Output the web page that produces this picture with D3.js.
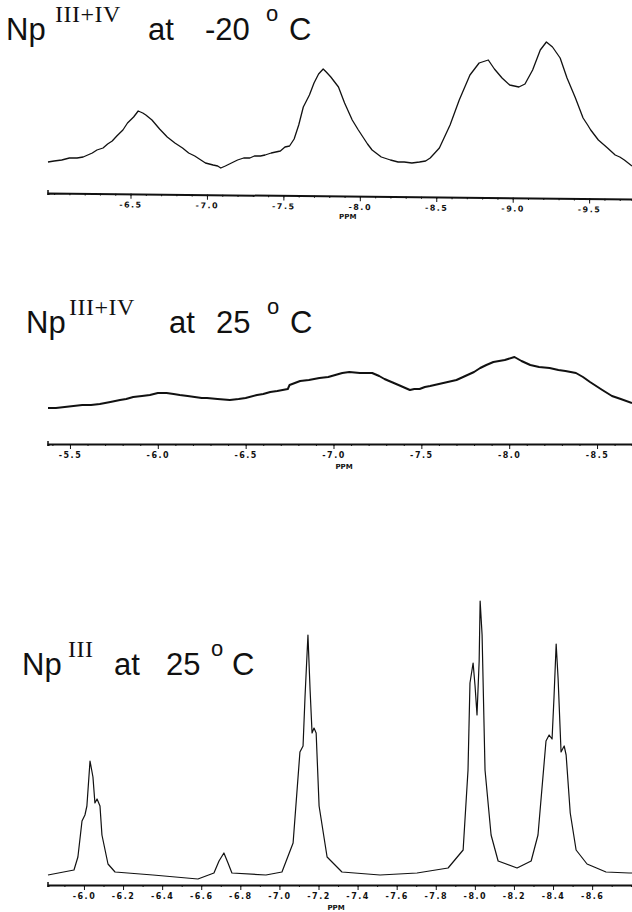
<!DOCTYPE html>
<head>
  <meta charset="utf-8">
</head>
<style>
body { margin: 0; background: #fff; }
.trace { fill: none; stroke: #111; stroke-linejoin: round; }
.axis path, .axis line { stroke: #111; }
.axis text { font-family: "DejaVu Sans", sans-serif; font-size: 8px; font-weight: bold; fill: #111; letter-spacing: 1.5px; }
.title { font-family: "Liberation Sans", Arial, sans-serif; fill: #111; }
.sup { font-family: "Liberation Serif", "Times New Roman", serif; letter-spacing: 0.5px; }
.ppm { font-family: "DejaVu Sans", sans-serif; font-size: 7px; font-weight: bold; fill: #111; }
</style>
<body>
<script src="https://d3js.org/d3.v7.min.js"></script>
<script>
// Np(III+IV) at -20 C
var ppm1 = [-5.96, -6.00, -6.05, -6.10, -6.15, -6.19, -6.22, -6.25, -6.28, -6.32, -6.35, -6.38, -6.41, -6.45, -6.48, -6.52, -6.55, -6.58, -6.60, -6.64, -6.69, -6.74, -6.79, -6.84, -6.88, -6.92, -6.96, -6.99, -7.04, -7.07, -7.09, -7.12, -7.16, -7.20, -7.24, -7.28, -7.31, -7.35, -7.38, -7.42, -7.45, -7.48, -7.51, -7.54, -7.57, -7.60, -7.63, -7.67, -7.70, -7.73, -7.76, -7.78, -7.81, -7.86, -7.90, -7.95, -7.99, -8.02, -8.05, -8.08, -8.14, -8.20, -8.25, -8.29, -8.34, -8.39, -8.43, -8.46, -8.52, -8.59, -8.65, -8.72, -8.78, -8.82, -8.84, -8.88, -8.93, -8.98, -9.04, -9.08, -9.13, -9.18, -9.22, -9.26, -9.31, -9.355, -9.41, -9.46, -9.49, -9.51, -9.56, -9.62, -9.67, -9.70, -9.73, -9.78];
var int1 = [13, 14, 15, 17, 17, 18, 20, 22, 25, 27, 31, 34, 39, 45, 52, 58, 64, 62, 60, 55, 46, 38, 32, 27, 22, 19, 15, 12, 10, 9, 7, 9, 12, 15, 17, 17, 19, 19, 20, 22, 23, 24, 28, 29, 36, 50, 68, 80, 92, 101, 106, 103, 98, 88, 72, 55, 45, 38, 31, 25, 18, 15, 13, 13, 12, 13, 14, 17, 27, 50, 75, 100, 112, 114, 115, 106, 97, 90, 88, 91, 105, 125, 133, 128, 117, 97, 77, 57, 50, 45, 35, 27, 20, 18, 15, 9];

// Np(III+IV) at 25 C
var ppm2 = [-5.375, -5.42, -5.47, -5.52, -5.57, -5.62, -5.67, -5.73, -5.785, -5.82, -5.86, -5.91, -5.955, -6.00, -6.05, -6.09, -6.125, -6.17, -6.21, -6.25, -6.28, -6.34, -6.41, -6.46, -6.50, -6.565, -6.60, -6.64, -6.68, -6.71, -6.74, -6.75, -6.81, -6.86, -6.92, -6.97, -7.01, -7.05, -7.09, -7.15, -7.22, -7.26, -7.29, -7.33, -7.37, -7.435, -7.46, -7.49, -7.52, -7.55, -7.60, -7.65, -7.70, -7.75, -7.80, -7.835, -7.87, -7.91, -7.975, -8.03, -8.07, -8.12, -8.17, -8.23, -8.28, -8.32, -8.38, -8.42, -8.46, -8.53, -8.585, -8.635, -8.699];
var int2 = [12, 12, 13, 14, 15, 15, 16, 18, 20, 21, 23, 24, 25, 27, 27, 26, 25, 24, 23, 22, 22, 21, 20, 21, 22, 25, 26, 28, 29, 30, 31, 35, 39, 40, 42, 43, 45, 47, 48, 47, 47, 44, 41, 38, 35, 30, 31, 31, 33, 34, 36, 38, 40, 44, 48, 52, 55, 58, 60, 63, 59, 55, 53, 52, 50, 49, 47, 43, 38, 30, 24, 21, 17];

// Np(III) at 25 C
var ppm3 = [-5.816, -5.949, -5.969, -5.99, -6.005, -6.015, -6.031, -6.046, -6.056, -6.067, -6.082, -6.092, -6.123, -6.159, -6.353, -6.583, -6.665, -6.691, -6.716, -6.737, -6.757, -6.931, -7.013, -7.070, -7.105, -7.121, -7.131, -7.146, -7.157, -7.167, -7.177, -7.188, -7.203, -7.244, -7.320, -7.515, -7.704, -7.863, -7.940, -7.965, -7.975, -7.991, -8.001, -8.011, -8.022, -8.027, -8.037, -8.052, -8.083, -8.119, -8.216, -8.288, -8.323, -8.364, -8.380, -8.395, -8.405, -8.416, -8.426, -8.441, -8.457, -8.467, -8.488, -8.518, -8.574, -8.671, -8.789, -8.804];
var int3 = [5, 10, 23, 59, 65, 74, 119, 103, 77, 81, 74, 45, 16, 8, 5, 1, 7, 19, 27, 17, 7, 5, 8, 37, 128, 134, 183, 245, 190, 147, 152, 147, 74, 23, 8, 5, 7, 12, 30, 110, 197, 217, 194, 165, 219, 279, 245, 110, 45, 19, 12, 19, 45, 139, 145, 141, 183, 236, 201, 128, 134, 125, 67, 30, 16, 8, 7, 7];

var ticks1 = [-6.5, -7.0, -7.5, -8.0, -8.5, -9.0, -9.5];
var ticks2 = [-5.5, -6.0, -6.5, -7.0, -7.5, -8.0, -8.5];
var ticks3 = [-6.0, -6.2, -6.4, -6.6, -6.8, -7.0, -7.2, -7.4, -7.6, -7.8, -8.0, -8.2, -8.4, -8.6];

var width = 632, height = 912;

var svg = d3.select("body").append("svg")
  .attr("width", width)
  .attr("height", height);

var panels = [
  {ppm: ppm1, val: int1, ticks: ticks1, dom: [-5.96, -9.78], ymax: 140, y0: 175, y1: 35, axisY: 193, tilt: 0.59, lw: 1.3, ppmX: 348, ppmY: 216,
   title: {y: 40, np: 6, sup: "III+IV", supX: 55, at: 148, temp: "-20", tempX: 205, oX: 266, cX: 289}},
  {ppm: ppm2, val: int2, ticks: ticks2, dom: [-5.375, -8.699], ymax: 100, y0: 420, y1: 320, axisY: 444, tilt: 0, lw: 2, ppmX: 344, ppmY: 469,
   title: {y: 333, np: 26, sup: "III+IV", supX: 69, at: 169, temp: "25", tempX: 216, oX: 267, cX: 290}},
  {ppm: ppm3, val: int3, ticks: ticks3, dom: [-5.816, -8.804], ymax: 280, y0: 880, y1: 600, axisY: 885, tilt: 0, lw: 1.2, ppmX: 336, ppmY: 910,
   title: {y: 675, np: 22, sup: "III", supX: 68, at: 114, temp: "25", tempX: 166, oX: 211, cX: 232}}
];

panels.forEach(function(p) {
  var x = d3.scaleLinear().domain(p.dom).range([48, 632]);
  var y = d3.scaleLinear().domain([0, p.ymax]).range([p.y0, p.y1]);

  var pts = p.ppm.map(function(d, i) { return [d, p.val[i]]; });
  var line = d3.line()
    .x(function(d) { return x(d[0]); })
    .y(function(d) { return y(d[1]); })
    .curve(d3.curveLinear);

  svg.append("path")
    .datum(pts)
    .attr("class", "trace")
    .attr("stroke-width", p.lw)
    .attr("d", line);

  // axis, slightly skewed like the plotter output
  var g = svg.append("g")
    .attr("transform", "rotate(" + p.tilt + " 48 " + p.axisY + ")");

  var minorTicks = d3.range(Math.ceil(-p.dom[0] * 10), Math.floor(-p.dom[1] * 10) + 1).map(function(k) { return -k / 10; });
  g.append("g")
    .attr("class", "axis")
    .attr("transform", "translate(0," + p.axisY + ")")
    .call(d3.axisBottom(x).tickValues(minorTicks).tickSize(2).tickFormat(""))
    .call(function(s) { s.select(".domain").attr("stroke-width", 2); });

  g.append("g")
    .attr("class", "axis")
    .attr("transform", "translate(0," + p.axisY + ")")
    .call(d3.axisBottom(x).tickValues(p.ticks).tickSize(5).tickSizeOuter(0).tickPadding(3)
      .tickFormat(function(d) { return d.toFixed(1); }))
    .call(function(s) { s.select(".domain").remove(); });

  g.append("line")
    .attr("x1", 48).attr("x2", 48)
    .attr("y1", p.axisY - 3).attr("y2", p.axisY + 2)
    .attr("stroke", "#111").attr("stroke-width", 1.5);

  g.append("text")
    .attr("class", "ppm")
    .attr("x", p.ppmX)
    .attr("y", p.ppmY)
    .attr("text-anchor", "middle")
    .text("PPM");

  var t = svg.append("text").attr("class", "title");
  t.append("tspan").attr("x", p.title.np).attr("y", p.title.y).attr("font-size", 31).text("Np");
  t.append("tspan").attr("class", "sup").attr("x", p.title.supX).attr("y", p.title.y - 18).attr("font-size", 24).text(p.title.sup);
  t.append("tspan").attr("x", p.title.at).attr("y", p.title.y).attr("font-size", 31).text("at");
  t.append("tspan").attr("x", p.title.tempX).attr("y", p.title.y).attr("font-size", 31).text(p.title.temp);
  t.append("tspan").attr("x", p.title.oX).attr("y", p.title.y - 19).attr("font-size", 22).text("o");
  t.append("tspan").attr("x", p.title.cX).attr("y", p.title.y).attr("font-size", 31).text("C");
});
</script>
</body>
